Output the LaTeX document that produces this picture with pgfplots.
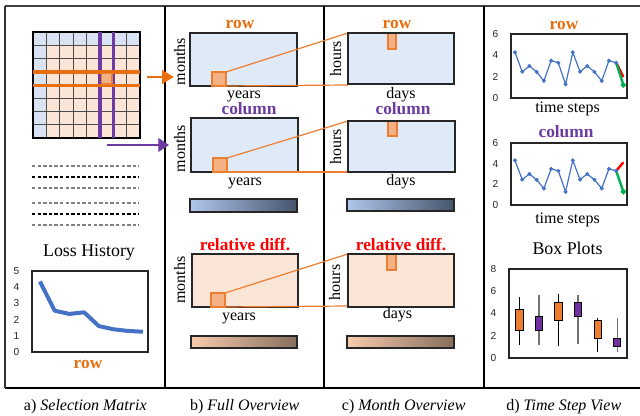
\documentclass[border=0pt]{standalone}
\usepackage{pgfplots}
\pgfplotsset{compat=1.18}
\usepgfplotslibrary{statistics}
\usetikzlibrary{arrows.meta}
\usepackage{fontspec}
\setmainfont{Liberation Serif}
\newfontfamily\sansf{Liberation Sans}

\definecolor{mblue}{RGB}{218,227,243}
\definecolor{hblue}{RGB}{222,234,247}
\definecolor{peach}{RGB}{251,229,214}
\definecolor{sqfill}{RGB}{244,177,131}
\definecolor{sqdraw}{RGB}{237,125,49}
\definecolor{ora}{RGB}{232,110,15}
\definecolor{pur}{RGB}{108,58,160}
\definecolor{lblue}{RGB}{68,114,196}
\definecolor{gr}{RGB}{0,176,80}
\definecolor{cbA}{RGB}{176,198,236}
\definecolor{cbB}{RGB}{70,84,108}
\definecolor{cpA}{RGB}{248,203,173}
\definecolor{cpB}{RGB}{135,110,92}
\definecolor{boxo}{RGB}{237,125,49}
\definecolor{boxp}{RGB}{112,48,160}

\newcommand{\tfont}{\fontsize{13}{15}\selectfont\bfseries}
\newcommand{\lfont}{\fontsize{12}{14}\selectfont}

\pgfplotsset{
  smallax/.style={
    scale only axis, anchor=south west,
    xtick=\empty, major tick length=0pt,
    axis line style={line width=1.1pt, black!85},
    /pgf/number format/assume math mode=true,
    tick label style={font=\sansf\fontsize{7.6}{9}\selectfont, text=black!85},
    yticklabel style={xshift=-6pt},
    clip=false,
  }
}

\begin{document}
\begin{tikzpicture}
\begin{scope}[x=0.75pt,y=-0.75pt]
\path[use as bounding box] (0,0) rectangle (640,416);
% frame
\draw[black!75, line width=1.5pt] (5,6) -- (640,6);
\draw[black, line width=1.1pt] (5,388) -- (640,388);
\draw[black!80, line width=1pt] (5,6) -- (5,388);
\draw[black, line width=0.9pt] (165,6)--(165,388);
\draw[black, line width=0.9pt] (324,6)--(324,388);
\draw[black, line width=0.9pt] (484,6)--(484,388);

% ---------- panel a: selection matrix
\fill[peach] (33,32) rectangle (140,138);
\fill[mblue] (33,32) rectangle (140,45.25);
\fill[mblue] (33,32) rectangle (46.375,138);
\fill[sqfill] (100,72) rectangle (113.5,85.5);
\foreach \i in {1,...,7} {
  \draw[black!70, line width=0.7pt] ({33+\i*13.375},32) -- ({33+\i*13.375},138);
  \draw[black!70, line width=0.7pt] (33,{32+\i*13.25}) -- (140,{32+\i*13.25});
}
\draw[black, line width=0.9pt] (33,32) rectangle (140,138);

\draw[ora, line width=2.2pt, -{Triangle[length=9pt,width=10pt]}] (147,77) -- (174,77);
\draw[pur, line width=2.2pt, -{Triangle[length=8pt,width=10pt]}] (107,145) -- (169,145);

\foreach \y/\c in {166/black!50, 177/black, 188/black!50, 203/black!50, 214/black, 225/black!50}
  \draw[\c, line width=0.8pt, dash pattern=on 2.6pt off 1.6pt] (32,\y) -- (139,\y);

% highlighted row / column bands
\fill[pur] (98.4,32) rectangle (101.6,138);
\fill[pur] (111.9,32) rectangle (115.1,138);
\fill[ora] (33,70.4) rectangle (140,73.6);
\fill[ora] (33,83.9) rectangle (140,87.1);
\draw[sqdraw, line width=1pt] (101.6,73.6) rectangle (111.9,83.9);

\node[font=\fontsize{13.4}{15}\selectfont, anchor=base] at (89,257) {Loss History};
\node[font=\tfont, text=ora, anchor=base] at (88,368.3) {row};

% ---------- panel b: full overview
\fill[hblue] (190,33) rectangle (297,86);
\fill[hblue] (191,118) rectangle (298,172);
\fill[peach] (192,254) rectangle (298,307);
\draw[black!85, line width=1.2pt] (190,33) rectangle (297,86);
\draw[black!85, line width=1.2pt] (191,118) rectangle (298,172);
\draw[black!85, line width=1.2pt] (192,254) rectangle (298,307);

\draw[sqdraw, line width=0.9pt] (226,72) -- (348,33);
\draw[sqdraw, line width=0.9pt] (226,86) -- (348,85);
\draw[sqdraw, line width=0.9pt] (227,158) -- (348,121);
\draw[sqdraw, line width=0.9pt] (227,172) -- (348,172);
\draw[sqdraw, line width=0.9pt] (225,293) -- (348,254);
\draw[sqdraw, line width=0.9pt] (225,307) -- (348,306);

\filldraw[fill=sqfill, draw=sqdraw, line width=0.9pt] (212,72) rectangle (226,86);
\filldraw[fill=sqfill, draw=sqdraw, line width=0.9pt] (213,158) rectangle (227,172);
\filldraw[fill=sqfill, draw=sqdraw, line width=0.9pt] (211,293) rectangle (225,307);

\shade[left color=cbA, right color=cbB] (190,199) rectangle (297,212);
\draw[black!85, line width=1pt] (190,199) rectangle (297,212);
\shade[left color=cpA, right color=cpB] (191,336) rectangle (297,348);
\draw[black!85, line width=1pt] (191,336) rectangle (297,348);

\node[font=\tfont, text=ora, anchor=base] at (240,28.5) {row};
\node[font=\tfont, text=pur, anchor=base] at (249,115) {column};
\node[font=\tfont, text=red, anchor=base] at (245,250.7) {relative diff.};
\node[font=\lfont, anchor=base] at (244,99) {years};
\node[font=\lfont, anchor=base] at (245,185.7) {years};
\node[font=\lfont, anchor=base] at (239,320.7) {years};
\node[font=\lfont, anchor=base, rotate=90] at (185,61.5) {months};
\node[font=\lfont, anchor=base, rotate=90] at (185,148.5) {months};
\node[font=\lfont, anchor=base, rotate=90] at (185,280.3) {months};

% ---------- panel c: month overview
\fill[hblue] (348,33) rectangle (454,84);
\fill[hblue] (348,121) rectangle (455,172);
\fill[peach] (348,254) rectangle (454,307);
\filldraw[fill=sqfill, draw=sqdraw, line width=0.9pt] (388,33) rectangle (396,49);
\filldraw[fill=sqfill, draw=sqdraw, line width=0.9pt] (388,121) rectangle (397,136);
\filldraw[fill=sqfill, draw=sqdraw, line width=0.9pt] (387,254) rectangle (396,270);
\draw[black!85, line width=1.2pt] (348,33) rectangle (454,84);
\draw[black!85, line width=1.2pt] (348,121) rectangle (455,172);
\draw[black!85, line width=1.2pt] (348,254) rectangle (454,307);

\shade[left color=cbA, right color=cbB] (347,199) rectangle (454,211);
\draw[black!85, line width=1pt] (347,199) rectangle (454,211);
\shade[left color=cpA, right color=cpB] (347,336) rectangle (454,348);
\draw[black!85, line width=1pt] (347,336) rectangle (454,348);

\node[font=\tfont, text=ora, anchor=base] at (397,28.3) {row};
\node[font=\tfont, text=pur, anchor=base] at (403,115) {column};
\node[font=\tfont, text=red, anchor=base] at (401,250.7) {relative diff.};
\node[font=\lfont, anchor=base] at (401,99) {days};
\node[font=\lfont, anchor=base] at (401,185.7) {days};
\node[font=\lfont, anchor=base] at (397.5,319) {days};
\node[font=\lfont, anchor=base, rotate=90] at (341,58.7) {hours};
\node[font=\lfont, anchor=base, rotate=90] at (341,146.7) {hours};
\node[font=\lfont, anchor=base, rotate=90] at (340,282.5) {hours};

% ---------- panel d labels
\node[font=\tfont, text=ora, anchor=base] at (564,29.3) {row};
\node[font=\lfont, anchor=base] at (567.5,112.3) {time steps};
\node[font=\tfont, text=pur, anchor=base] at (566,137.3) {column};
\node[font=\lfont, anchor=base] at (567.5,224) {time steps};
\node[font=\fontsize{13.4}{15}\selectfont, anchor=base] at (567.5,255) {Box Plots};

% ---------- captions
\node[font=\fontsize{12}{14}\selectfont, anchor=base] at (85.3,410.7) {a) \textit{Selection Matrix}};
\node[font=\fontsize{12}{14}\selectfont, anchor=base] at (244.7,410.7) {b) \textit{Full Overview}};
\node[font=\fontsize{12}{14}\selectfont, anchor=base] at (403.7,410.7) {c) \textit{Month Overview}};
\node[font=\fontsize{12}{14}\selectfont, anchor=base] at (563.8,410.7) {d) \textit{Time Step View}};
\end{scope}

% ---------- loss history
\begin{axis}[smallax, at={({32*0.75pt},{-352*0.75pt})}, width=87pt, height=60.75pt,
  xmin=-0.54, xmax=7.34, ymin=0, ymax=5, ytick={0,1,2,3,4,5}]
\addplot[lblue, line width=3pt, line join=round] coordinates
  {(0,4.35)(1,2.55)(2,2.35)(3,2.45)(4,1.6)(5,1.4)(6,1.3)(7,1.25)};
\end{axis}

% ---------- time steps: row
\begin{axis}[smallax, at={({511*0.75pt},{-98*0.75pt})}, width=87pt, height=48pt,
  xmin=-0.55, xmax=15.5, ymin=0, ymax=6, ytick={0,2,4,6}]
\addplot[lblue, line width=0.9pt, mark=*, mark size=1pt] coordinates
  {(0,4.28)(1,2.46)(2,3.0)(3,2.44)(4,1.6)(5,3.5)(6,3.3)(7,1.28)(8,4.28)(9,2.46)(10,3.0)(11,2.44)(12,1.6)(13,3.5)(14,3.3)};
\addplot[red, line width=1.8pt] coordinates {(14,3.3)(15,1.97)};
\addplot[gr, line width=1.8pt, mark=*, mark size=1pt, mark indices={2}] coordinates {(14,3.3)(15,1.22)};
\end{axis}

% ---------- time steps: column
\begin{axis}[smallax, at={({511*0.75pt},{-205*0.75pt})}, width=87pt, height=46.5pt,
  xmin=-0.55, xmax=15.5, ymin=0, ymax=6, ytick={0,2,4,6}]
\addplot[lblue, line width=0.9pt, mark=*, mark size=1pt] coordinates
  {(0,4.32)(1,2.46)(2,3.0)(3,2.44)(4,1.6)(5,3.5)(6,3.3)(7,1.28)(8,4.32)(9,2.46)(10,3.0)(11,2.44)(12,1.6)(13,3.5)(14,3.3)};
\addplot[red, line width=1.8pt] coordinates {(14,3.3)(15,4.13)};
\addplot[gr, line width=1.8pt, mark=*, mark size=1pt, mark indices={2}] coordinates {(14,3.3)(15,1.29)};
\end{axis}

% ---------- box plots
\begin{axis}[smallax, at={({509*0.75pt},{-358*0.75pt})}, width=88.5pt, height=66.75pt,
  xmin=0.47, xmax=6.5, ymin=0, ymax=8, ytick={0,2,4,6,8},
  boxplot/draw direction=y,
  boxplot/draw/median/.code={}]
\addplot[fill=boxo, draw=black, line width=0.6pt, boxplot prepared={draw position=1,
  lower whisker=1.13, lower quartile=2.49, median=2.49, upper quartile=4.39, upper whisker=5.48,
  box extend=0.37, whisker extend=0, every whisker/.style={black, line width=0.9pt}}] coordinates {};
\addplot[fill=boxp, draw=black, line width=0.6pt, boxplot prepared={draw position=2,
  lower whisker=1.19, lower quartile=2.49, median=2.49, upper quartile=3.76, upper whisker=5.69,
  box extend=0.37, whisker extend=0, every whisker/.style={black!55, line width=0.9pt}}] coordinates {};
\addplot[fill=boxo, draw=black, line width=0.6pt, boxplot prepared={draw position=3,
  lower whisker=1.1, lower quartile=3.38, median=3.38, upper quartile=4.98, upper whisker=5.78,
  box extend=0.37, whisker extend=0, every whisker/.style={black, line width=0.9pt}}] coordinates {};
\addplot[fill=boxp, draw=black, line width=0.6pt, boxplot prepared={draw position=4,
  lower whisker=1.27, lower quartile=3.76, median=3.76, upper quartile=4.98, upper whisker=5.66,
  box extend=0.37, whisker extend=0, every whisker/.style={black!55, line width=0.9pt}}] coordinates {};
\addplot[fill=boxo, draw=black, line width=0.6pt, boxplot prepared={draw position=5,
  lower whisker=0.5, lower quartile=1.78, median=1.78, upper quartile=3.38, upper whisker=3.59,
  box extend=0.37, whisker extend=0, every whisker/.style={black, line width=0.9pt}}] coordinates {};
\addplot[fill=boxp, draw=black, line width=0.6pt, boxplot prepared={draw position=6,
  lower whisker=0.5, lower quartile=1.0, median=1.0, upper quartile=1.78, upper whisker=3.59,
  box extend=0.37, whisker extend=0, every whisker/.style={black!55, line width=0.9pt}}] coordinates {};
\end{axis}
\end{tikzpicture}
\end{document}
